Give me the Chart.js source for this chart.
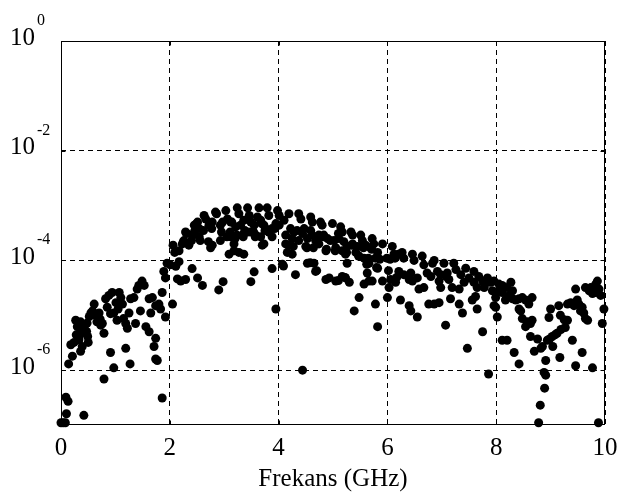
<!DOCTYPE html>
<html>
<head>
<meta charset="utf-8">
<script src="https://cdn.jsdelivr.net/npm/chart.js@4.4.1/dist/chart.umd.min.js"></script>
<style>
    html, body { margin: 0; padding: 0; background: #fff; }
    #wrap { width: 638px; height: 500px; }
</style>
</head>
<body>
<div id="wrap"><canvas id="chart" width="638" height="500"></canvas></div>
<script>
// ---- Data ----
const freqLow = [0.00, 0.04, 0.08, 0.10, 0.13, 0.09, 0.42, 0.14, 0.21, 0.18, 0.24, 0.36, 0.39, 0.28, 0.30,
    0.27, 0.36, 0.42, 0.50, 0.49, 0.58, 0.55, 0.64, 0.61, 0.70, 0.73, 0.76, 0.79, 0.79, 0.91, 0.97,
    0.82, 0.88, 0.94, 0.85, 1.01, 1.07, 1.10, 0.97, 1.03, 1.15, 1.19, 1.25, 1.22, 1.37, 1.19, 1.27,
    1.13, 1.28, 1.34, 1.40, 1.49, 1.43, 1.53, 1.46, 1.56, 1.62, 1.65, 1.62, 1.68, 1.74, 1.80,
    1.74, 1.71, 1.74, 1.77, 1.83, 1.92, 1.86, 1.89, 1.92, 1.86, 1.95, 2.01, 2.11, 2.06, 2.09, 2.14, 2.05,
    0.35, 0.33, 0.47, 0.48, 0.52, 0.72, 0.66, 0.91, 1.05];
const levelLow = [1.1e-7, 1.1e-7, 1.1e-7, 1.6e-7, 2.7e-7, 3.2e-7, 1.5e-7, 1.3e-6, 1.8e-6, 2.9e-6, 3.2e-6, 2.2e-6, 2.7e-6, 4.4e-6, 6.2e-6,
    8.1e-6, 7.6e-6, 5.8e-6, 3.2e-6, 4.1e-6, 1.2e-5, 1.1e-5, 1.0e-5, 1.6e-5, 1.1e-5, 6.6e-6, 7.1e-6, 4.7e-6, 6.9e-7, 2.1e-6, 1.1e-6,
    2.0e-5, 2.3e-5, 2.6e-5, 1.4e-5, 1.7e-5, 2.6e-5, 2.1e-5, 1.1e-5, 8.1e-6, 8.7e-6, 7.1e-6, 1.1e-5, 5.8e-6, 7.1e-6, 2.5e-6, 1.3e-6,
    1.6e-5, 2.0e-5, 2.1e-5, 3.0e-5, 4.2e-5, 3.5e-5, 3.5e-5, 1.2e-5, 6.2e-6, 5.0e-6, 1.1e-5, 2.0e-5, 2.1e-5, 1.5e-5, 1.6e-5,
    3.8e-6, 2.7e-6, 1.6e-6, 1.5e-6, 1.3e-5, 9.3e-6, 2.6e-5, 6.3e-5, 4.8e-5, 3.1e-7, 8.9e-5, 8.3e-5, 7.8e-5, 1.9e-4, 1.4e-4, 4.6e-5, 1.6e-5,
    4.5e-6, 3.6e-6, 5.1e-6, 7.2e-6, 9.5e-6, 8.5e-6, 7.6e-6, 1.07e-5, 1.3e-5];

const freqMid = [2.51, 2.63, 2.66, 2.84, 3.03, 3.06, 3.24, 3.27, 3.43, 3.46, 3.64, 3.61, 3.79, 3.82, 3.98, 4.01,
    4.19, 4.37, 4.41, 4.59, 4.62, 4.77, 4.80, 4.99, 5.14, 5.17, 5.33, 5.36, 5.51, 5.54, 5.72, 5.75,
    2.29, 2.45, 2.54, 2.72, 2.78, 2.93, 2.97, 3.12, 3.21, 3.30, 3.36, 3.49, 3.55, 3.67, 3.73, 3.76,
    3.88, 3.95, 4.01, 4.10, 4.22, 4.28, 4.34, 4.44, 4.47, 4.59, 4.62, 4.74, 4.83, 4.90, 5.02, 5.11,
    5.20, 5.26, 5.36, 5.45, 5.60, 5.69, 5.82,
    2.26, 2.41, 2.54, 2.78, 2.75, 2.93, 3.12, 3.18, 3.33, 3.43, 3.49, 3.58, 3.67, 3.73, 3.82, 3.88,
    4.13, 4.25, 4.37, 4.53, 4.50, 4.68, 4.74, 4.87, 5.05, 5.17, 5.23, 5.42, 5.48, 5.57, 5.66, 5.78,
    2.17, 2.23, 2.35, 3.09, 3.18, 3.27, 3.36, 3.70, 4.13, 4.16, 4.25, 4.53, 4.65, 4.68, 4.87, 4.93,
    5.05, 5.17, 5.23, 5.30, 5.26, 5.57, 5.63, 5.66, 5.72, 5.82,
    2.17, 2.41, 2.29, 2.20, 2.51, 2.60, 2.90, 2.98, 3.49, 3.55, 3.88, 4.07, 4.31, 3.95, 4.44, 5.39,
    5.48, 5.78, 5.82];
const levelMid = [5.0e-4, 6.6e-4, 5.7e-4, 7.6e-4, 8.1e-4, 5.7e-4, 9.1e-4, 7.1e-4, 9.1e-4, 6.6e-4, 9.1e-4, 6.2e-4, 9.1e-4, 6.6e-4, 8.1e-4, 6.6e-4,
    7.1e-4, 7.1e-4, 5.7e-4, 6.2e-4, 5.0e-4, 5.0e-4, 4.4e-4, 4.7e-4, 4.1e-4, 3.3e-4, 3.3e-4, 2.9e-4, 2.9e-4, 2.3e-4, 2.5e-4, 2.0e-4,
    3.3e-4, 4.4e-4, 3.8e-4, 4.4e-4, 5.0e-4, 4.4e-4, 5.0e-4, 5.0e-4, 4.1e-4, 4.4e-4, 5.4e-4, 5.0e-4, 4.4e-4, 5.4e-4, 4.4e-4, 3.8e-4,
    3.8e-4, 4.7e-4, 4.4e-4, 5.4e-4, 3.8e-4, 3.3e-4, 3.5e-4, 3.1e-4, 3.8e-4, 3.5e-4, 2.9e-4, 2.9e-4, 2.9e-4, 2.5e-4, 2.3e-4, 2.5e-4,
    2.2e-4, 1.8e-4, 2.0e-4, 1.8e-4, 1.9e-4, 1.7e-4, 1.4e-4,
    2.3e-4, 2.9e-4, 2.7e-4, 1.9e-4, 1.7e-4, 2.3e-4, 2.7e-4, 2.0e-4, 2.9e-4, 3.3e-4, 3.3e-4, 2.9e-4, 2.7e-4, 2.0e-4, 3.3e-4, 2.7e-4,
    2.9e-4, 2.5e-4, 2.3e-4, 2.5e-4, 1.8e-4, 2.3e-4, 2.0e-4, 1.5e-4, 1.7e-4, 1.5e-4, 1.3e-4, 1.4e-4, 1.2e-4, 1.1e-4, 8.9e-5, 1.1e-4,
    1.5e-4, 2.0e-4, 1.9e-4, 1.3e-4, 1.5e-4, 1.4e-4, 1.3e-4, 1.9e-4, 2.0e-4, 1.4e-4, 1.3e-4, 8.9e-5, 8.9e-5, 6.3e-5, 4.5e-5, 4.8e-5,
    4.2e-5, 5.1e-5, 4.8e-5, 4.0e-5, 8.9e-5, 3.7e-5, 5.9e-5, 4.2e-5, 4.2e-5, 7.2e-5,
    9.5e-5, 7.1e-5, 4.5e-5, 4.2e-5, 4.8e-5, 3.5e-5, 2.9e-5, 4.1e-5, 4.1e-5, 6.2e-5, 7.1e-5, 8.5e-5, 5.5e-5, 1.3e-5, 1.0e-6, 1.2e-5,
    2.1e-5, 1.6e-5, 6.2e-6];

// extra dots in the crowded 2-6 GHz hump
const freqCore = [2.31, 2.46, 2.62, 2.77, 2.95, 3.11, 3.23, 3.38, 3.54, 3.75, 3.93, 2.25, 2.40, 2.56, 2.71, 3.05,
    3.20, 3.35, 3.57, 2.86, 3.14, 3.69, 2.49,
    4.70, 4.82, 4.95, 5.10, 5.34, 5.56, 5.71, 5.99, 6.14, 4.18, 4.27, 4.52, 4.64, 4.88, 5.04, 5.25,
    5.47, 5.65, 5.86, 6.05, 6.20, 4.70, 5.10, 5.22, 5.62, 5.80, 6.02, 6.17, 4.58, 4.09];
const levelCore = [3.1e-4, 3.5e-4, 3.5e-4, 3.8e-4, 3.3e-4, 3.3e-4, 2.9e-4, 3.5e-4, 3.3e-4, 3.5e-4, 3.8e-4, 2.2e-4, 2.3e-4, 2.3e-4, 2.2e-4, 2.7e-4,
    2.5e-4, 2.7e-4, 2.7e-4, 7.1e-4, 5.0e-4, 4.7e-4, 4.7e-4,
    2.3e-4, 2.7e-4, 2.3e-4, 3.1e-4, 1.9e-4, 1.7e-4, 1.6e-4, 1.1e-4, 1.1e-4, 1.9e-4, 1.8e-4, 1.7e-4, 1.7e-4, 1.6e-4, 1.5e-4, 1.4e-4,
    1.2e-4, 1.1e-4, 1.05e-4, 1.05e-4, 1.3e-4, 6.5e-5, 4.3e-5, 4.9e-5, 8.5e-5, 7.4e-5, 6.5e-5, 4.9e-5, 9.1e-5, 7.9e-5];

const freqUpper = [5.91, 6.09, 6.12, 6.27, 6.30, 6.46, 6.49, 6.64, 6.67, 6.86, 6.83, 7.04, 7.10, 7.22, 7.26, 7.44,
    7.59, 7.68, 7.75, 7.84, 7.90, 7.96, 8.05, 8.11, 8.20, 8.27, 8.30,
    5.91, 6.06, 6.15, 6.03, 6.21, 6.30, 6.40, 6.43, 6.46, 6.55, 6.58, 6.67, 6.73, 6.80, 6.92, 6.98,
    6.95, 7.08, 7.13, 7.19, 7.32, 7.35, 7.41, 7.50, 7.59, 7.65, 7.78, 7.84, 7.93, 7.99, 8.05, 8.11,
    8.17, 8.24, 8.30, 8.36, 8.42, 8.48, 8.54, 8.60, 8.66, 8.42,
    6.00, 6.24, 6.40, 6.43, 6.55, 6.76, 6.86, 6.95, 6.98, 7.16, 7.32, 7.38, 7.56, 7.65, 7.62, 7.96,
    8.02, 7.99, 8.11, 8.20, 8.33, 8.42, 8.45, 8.48, 8.54, 8.57, 8.63, 8.66, 8.63, 7.07, 7.75, 7.47, 7.86];
const levelUpper = [2.0e-4, 1.8e-4, 1.3e-4, 1.4e-4, 1.1e-4, 1.3e-4, 1.0e-4, 1.2e-4, 8.3e-5, 1.0e-4, 8.9e-5, 8.9e-5, 5.9e-5, 8.9e-5, 6.8e-5, 7.2e-5,
    6.3e-5, 5.1e-5, 4.2e-5, 4.8e-5, 4.0e-5, 4.2e-5, 3.7e-5, 3.5e-5, 3.2e-5, 4.0e-5, 2.8e-5,
    4.2e-5, 4.5e-5, 4.0e-5, 3.2e-5, 6.3e-5, 5.5e-5, 4.5e-5, 5.9e-5, 4.2e-5, 4.8e-5, 3.0e-5, 3.2e-5, 5.9e-5, 5.1e-5, 6.3e-5, 5.5e-5,
    4.2e-5, 5.1e-5, 4.5e-5, 3.2e-5, 3.0e-5, 5.5e-5, 4.0e-5, 4.8e-5, 4.0e-5, 3.2e-5, 3.2e-5, 4.0e-5, 2.8e-5, 2.1e-5, 2.8e-5, 2.6e-5,
    1.9e-5, 2.3e-5, 2.0e-5, 1.9e-5, 2.0e-5, 2.1e-5, 1.9e-5, 1.6e-5, 2.1e-5, 1.3e-5,
    2.1e-5, 1.9e-5, 1.5e-5, 1.2e-5, 9.3e-6, 1.6e-5, 1.6e-5, 1.7e-5, 3.2e-5, 2.0e-5, 1.6e-5, 1.1e-5, 1.9e-5, 1.3e-5, 2.2e-5, 1.5e-5,
    9.3e-6, 1.4e-5, 3.5e-6, 3.5e-6, 2.1e-6, 1.3e-6, 1.2e-5, 8.7e-6, 6.2e-6, 7.6e-6, 7.1e-6, 8.1e-6, 4.1e-6, 6.6e-6, 5.0e-6, 2.5e-6, 8.5e-7];

const freqHigh = [8.70, 8.76, 8.78, 8.81, 8.82, 8.85, 8.89, 8.88, 8.91, 8.91, 8.94, 8.98, 9.03, 9.08, 9.12, 9.04,
    8.97, 9.00, 9.17, 9.15, 9.18, 9.19, 9.27, 9.31, 9.25, 9.31, 9.37, 9.43, 9.46, 9.49, 9.52, 9.55,
    9.58, 9.61, 9.64, 9.68, 9.40, 9.58, 9.46, 9.77, 9.64, 9.71, 9.77, 9.83, 9.86, 9.89, 9.92, 9.83,
    9.74, 9.98, 9.95, 9.88];
const levelHigh = [2.2e-6, 3.7e-6, 1.1e-7, 2.3e-7, 2.5e-6, 2.7e-6, 4.7e-7, 9.1e-7, 8.1e-7, 1.5e-6, 3.5e-6, 3.7e-6, 4.1e-6, 4.4e-6, 4.7e-6, 2.7e-6,
    9.1e-6, 1.3e-5, 1.7e-6, 1.5e-5, 1.0e-5, 5.5e-6, 6.0e-6, 8.1e-6, 8.3e-6, 1.6e-5, 1.7e-5, 1.5e-5, 3.0e-5, 1.9e-5, 1.6e-5, 1.2e-5,
    1.4e-5, 1.1e-5, 8.7e-6, 8.1e-6, 3.5e-6, 2.1e-6, 1.2e-6, 1.1e-6, 3.2e-5, 2.8e-5, 2.5e-5, 2.6e-5, 4.2e-5, 3.0e-5, 2.3e-5, 3.7e-5,
    3.2e-5, 1.3e-5, 7.1e-6, 1.1e-7];

const xTicks = [0, 2, 4, 6, 8, 10];
const yTicks = [1e-6, 1e-4, 1e-2, 1];
const yExponents = ['-6', '-4', '-2', '0'];

const FONT = 'Liberation Serif, Times New Roman, serif';

function toPoints(fr, lv) {
    return fr.map((f, i) => ({ x: f, y: lv[i] }));
}

const points = [
    ...toPoints(freqLow, levelLow),
    ...toPoints(freqMid, levelMid),
    ...toPoints(freqCore, levelCore),
    ...toPoints(freqUpper, levelUpper),
    ...toPoints(freqHigh, levelHigh)
];

// frame, inward ticks and the superscript exponents
const framePlugin = {
    id: 'frame',
    beforeDatasetsDraw(chart) {
        const { ctx, chartArea: a, scales } = chart;
        const l = Math.round(a.left) + 0.5, r = Math.round(a.right) - 0.5;
        const t = Math.round(a.top) + 0.5, b = Math.round(a.bottom) - 0.5;
        ctx.save();
        ctx.strokeStyle = '#000';
        ctx.lineWidth = 1;
        ctx.setLineDash([]);
        ctx.strokeRect(l, t, r - l, b - t);
        ctx.beginPath();
        xTicks.slice(1, -1).forEach(v => {
            const x = Math.round(scales.x.getPixelForValue(v)) + 0.5;
            ctx.moveTo(x, b); ctx.lineTo(x, b - 4);
            ctx.moveTo(x, t); ctx.lineTo(x, t + 4);
        });
        yTicks.slice(0, -1).forEach(v => {
            const y = Math.round(scales.y.getPixelForValue(v)) + 0.5;
            ctx.moveTo(l, y); ctx.lineTo(l + 4, y);
            ctx.moveTo(r, y); ctx.lineTo(r - 4, y);
        });
        ctx.stroke();
        ctx.restore();
    },
    afterDraw(chart) {
        const { ctx, scales } = chart;
        ctx.save();
        ctx.fillStyle = '#000';
        ctx.font = '16px ' + FONT;
        ctx.textAlign = 'left';
        ctx.textBaseline = 'alphabetic';
        yTicks.forEach((v, i) => {
            const y = scales.y.getPixelForValue(v);
            ctx.fillText(yExponents[i], 37, y - 16);
        });
        ctx.restore();
    }
};

new Chart(document.getElementById('chart'), {
    type: 'scatter',
    data: {
        datasets: [{
            data: points,
            pointRadius: 4.5,
            pointHoverRadius: 4.5,
            pointBackgroundColor: '#000',
            pointBorderWidth: 0,
            clip: false
        }]
    },
    options: {
        responsive: false,
        animation: false,
        events: [],
        layout: { padding: { top: 34, right: 33, left: 0, bottom: 0 } },
        plugins: {
            legend: { display: false },
            tooltip: { enabled: false }
        },
        scales: {
            x: {
                type: 'linear',
                min: 0,
                max: 10,
                afterBuildTicks: scale => { scale.ticks = xTicks.map(v => ({ value: v })); },
                afterFit: scale => { scale.height = 75; },
                grid: { color: '#000', lineWidth: 1, drawTicks: false },
                border: { display: false, dash: [5, 4] },
                ticks: {
                    color: '#000',
                    font: { family: FONT, size: 25 },
                    padding: 8,
                    maxRotation: 0
                },
                title: {
                    display: true,
                    text: 'Frekans (GHz)',
                    color: '#000',
                    font: { family: FONT, size: 25 },
                    padding: { top: 0, bottom: 6 }
                }
            },
            y: {
                type: 'logarithmic',
                min: 1e-7,
                max: 1,
                afterBuildTicks: scale => { scale.ticks = yTicks.map(v => ({ value: v })); },
                afterFit: scale => { scale.width = 61; },
                grid: { color: '#000', lineWidth: 1, drawTicks: false },
                border: { display: false, dash: [5, 4] },
                ticks: {
                    color: '#000',
                    font: { family: FONT, size: 25 },
                    padding: 26,
                    labelOffset: -3,
                    callback: () => '10'
                }
            }
        }
    },
    plugins: [framePlugin]
});
</script>
</body>
</html>
